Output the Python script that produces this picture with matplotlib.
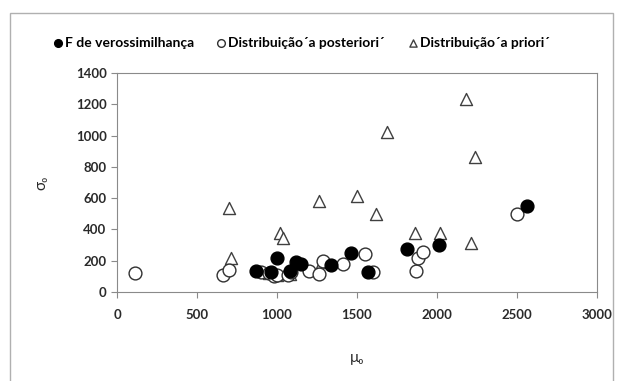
import matplotlib.pyplot as plt
from matplotlib.patches import Rectangle

plt.rcParams['font.family'] = ['Lato', 'DejaVu Sans']
plt.rcParams['font.weight'] = 'bold'

# F de verossimilhança
x_vero = [870, 960, 1000, 1080, 1120, 1150, 1340, 1460, 1570, 1810, 2010, 2560]
y_vero = [135, 130, 215, 135, 190, 180, 170, 250, 125, 275, 300, 550]

# distribuição a posteriori
x_post = [110, 660, 700, 900, 950, 980, 1000, 1070, 1090, 1200, 1260, 1290,
          1410, 1550, 1600, 1870, 1880, 1910, 2500]
y_post = [120, 110, 140, 125, 120, 105, 110, 110, 125, 135, 115, 200,
          180, 240, 125, 135, 220, 255, 500]

# distribuição a priori
x_prio = [700, 710, 950, 1000, 1020, 1040, 1080, 1260, 1280, 1500, 1620,
          1690, 1860, 2020, 2180, 2210, 2240]
y_prio = [540, 220, 120, 110, 380, 345, 115, 580, 190, 615, 500,
          1025, 380, 380, 1235, 315, 860]

xticks = [0, 500, 1000, 1500, 2000, 2500, 3000]
yticks = [0, 200, 400, 600, 800, 1000, 1200, 1400]

fig = plt.figure(figsize=(6.25, 3.81), dpi=100)
fig.patches.append(Rectangle((10 / 625, -0.05), 603 / 625, 1 - 13 / 381 + 0.05,
                             transform=fig.transFigure, fill=False,
                             edgecolor='#b0b0b0', linewidth=1.0))
ax = fig.add_axes([117 / 625, 1 - 292 / 381, 480 / 625, 219 / 381])

ax.scatter(x_prio, y_prio, s=75, marker='^', facecolor='white',
           edgecolor='#404040', linewidth=1.0, label='Distribuição´a priori´', zorder=2)
ax.scatter(x_post, y_post, s=85, marker='o', facecolor='white',
           edgecolor='#303030', linewidth=1.0, label='Distribuição´a posteriori´', zorder=3)
ax.scatter(x_vero, y_vero, s=85, marker='o', facecolor='black',
           edgecolor='black', linewidth=1.0, label='F de verossimilhança', zorder=4)

ax.set_xlim(0, 3000)
ax.set_ylim(0, 1400)
ax.set_xticks(xticks, [str(v) for v in xticks], fontweight='bold')
ax.set_yticks(yticks, [str(v) for v in yticks], fontweight='bold')
for s in ax.spines.values():
    s.set_color('#8a8a8a')
ax.tick_params(colors='#8a8a8a', labelcolor='#2a2a2a', labelsize=9.5,
               length=4, direction='out')
ax.tick_params(axis='x', pad=8)

ax.set_xlabel('μ₀', fontsize=11, color='#2a2a2a', labelpad=22)
ax.set_ylabel('σ₀', fontsize=11, color='#2a2a2a', labelpad=20)

h, l = ax.get_legend_handles_labels()
order = [2, 1, 0]
fig.legend([h[i] for i in order], [l[i] for i in order], ncol=3,
           loc='center', bbox_to_anchor=(300 / 625, 1 - 43 / 381),
           frameon=False, fontsize=10, handletextpad=0.0, columnspacing=1.5,
           markerscale=0.6, handlelength=1.0)

fig.savefig('out.png', dpi=100)
